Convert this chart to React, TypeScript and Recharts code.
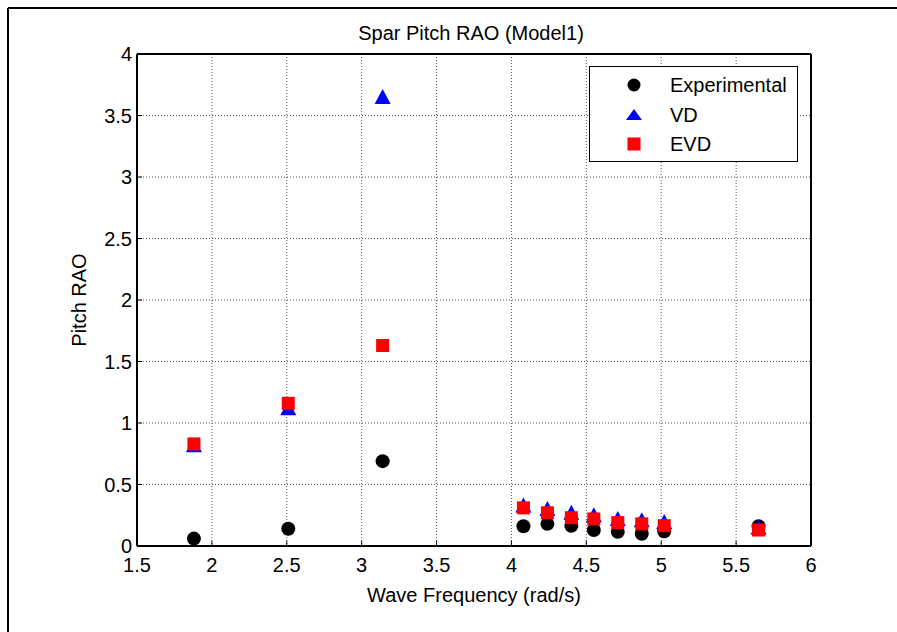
import React from "react";
import {
  ScatterChart, Scatter, XAxis, YAxis, CartesianGrid, Legend,
} from "recharts";

const FONT = "Arial, 'Liberation Sans', Helvetica, sans-serif";

// wave frequencies (rad/s)
const freqs = [1.88, 2.51, 3.14, 4.08, 4.24, 4.40, 4.55, 4.71, 4.87, 5.02, 5.65];
// pitch RAO per series
const expRao = [0.06, 0.14, 0.69, 0.16, 0.18, 0.165, 0.13, 0.115, 0.10, 0.12, 0.16];
const vdRao = [0.82, 1.12, 3.65, 0.33, 0.30, 0.27, 0.25, 0.22, 0.21, 0.195, 0.15];
const evdRao = [0.83, 1.16, 1.63, 0.31, 0.27, 0.23, 0.22, 0.19, 0.18, 0.165, 0.13];

const xTicks = [1.5, 2, 2.5, 3, 3.5, 4, 4.5, 5, 5.5, 6];
const yTicks = [0, 0.5, 1, 1.5, 2, 2.5, 3, 3.5, 4];

const toRows = (vals: number[]) => freqs.map((f, i) => ({ x: f, y: vals[i] }));

const circleShape = (p: any) => <circle cx={p.cx} cy={p.cy} r={7} fill="#000" />;
const triShape = (p: any) => (
  <path d={`M${p.cx},${p.cy - 8} L${p.cx + 8},${p.cy + 7} L${p.cx - 8},${p.cy + 7} Z`} fill="#0000ff" />
);
const squareShape = (p: any) => (
  <rect x={p.cx - 6.5} y={p.cy - 6.5} width={13} height={13} fill="#ff0000" />
);

const legendItems = [
  { name: "Experimental", marker: <circle cx={8} cy={8} r={6.5} fill="#000" /> },
  { name: "VD", marker: <path d="M8,2 L16,13 L0,13 Z" fill="#0000ff" /> },
  { name: "EVD", marker: <rect x={1.5} y={1.5} width={13} height={13} fill="#ff0000" /> },
];

function LegendBox() {
  return (
    <div
      style={{
        width: 209, height: 96, boxSizing: "border-box", border: "1.5px solid #000",
        background: "#fff", position: "relative", fontFamily: FONT, fontSize: 20, color: "#000",
      }}
    >
      {legendItems.map((it, i) => (
        <div key={it.name} style={{ position: "absolute", left: 0, top: 18 + i * 29.5 - 12, height: 24, width: "100%" }}>
          <svg width={16} height={16} style={{ position: "absolute", left: 36, top: 4 }}>
            {it.marker}
          </svg>
          <span style={{ position: "absolute", left: 80, top: 0, lineHeight: "24px" }}>{it.name}</span>
        </div>
      ))}
    </div>
  );
}

export default function App() {
  const tickStyle = { fill: "#000", fontSize: 20, fontFamily: FONT };
  return (
    <div style={{ position: "absolute", left: 0, top: 0, width: 897, height: 632, background: "#fff" }}>
      <ScatterChart
        width={897}
        height={632}
        margin={{ top: 49, right: 81, bottom: 56, left: 21 }}
        style={{ fontFamily: FONT }}
      >
        <CartesianGrid stroke="#555" strokeDasharray="1 2" strokeWidth={1} />
        <XAxis
          type="number"
          dataKey="x"
          domain={[1.5, 6]}
          ticks={xTicks}
          height={30}
          tick={tickStyle}
          tickSize={-5}
          tickMargin={17}
          axisLine={{ stroke: "#000", strokeWidth: 2 }}
          tickLine={{ stroke: "#000" }}
          label={{ value: "Wave Frequency (rad/s)", position: "bottom", offset: 12, fill: "#000", fontSize: 20, fontFamily: FONT }}
        />
        <XAxis
          xAxisId="top"
          orientation="top"
          type="number"
          domain={[1.5, 6]}
          ticks={xTicks}
          height={5}
          tick={false}
          tickSize={-5}
          axisLine={{ stroke: "#000", strokeWidth: 2 }}
          tickLine={{ stroke: "#000" }}
        />
        <YAxis
          type="number"
          dataKey="y"
          domain={[0, 4]}
          ticks={yTicks}
          width={116}
          tick={tickStyle}
          tickSize={-5}
          tickMargin={10}
          axisLine={{ stroke: "#000", strokeWidth: 2 }}
          tickLine={{ stroke: "#000" }}
          label={{ value: "Pitch RAO", angle: -90, position: "center", fill: "#000", fontSize: 20, fontFamily: FONT }}
        />
        <YAxis
          yAxisId="right"
          orientation="right"
          type="number"
          domain={[0, 4]}
          ticks={yTicks}
          width={5}
          tick={false}
          tickSize={-5}
          axisLine={{ stroke: "#000", strokeWidth: 2 }}
          tickLine={{ stroke: "#000" }}
        />
        <Legend
          layout="vertical"
          align="center"
          verticalAlign="middle"
          content={() => <LegendBox />}
          wrapperStyle={{ left: 589, top: 66, width: 209, height: 96 }}
        />
        <Scatter name="Experimental" data={toRows(expRao)} shape={circleShape} isAnimationActive={false} />
        <Scatter name="VD" data={toRows(vdRao)} shape={triShape} isAnimationActive={false} />
        <Scatter name="EVD" data={toRows(evdRao)} shape={squareShape} isAnimationActive={false} />
      </ScatterChart>
      <svg width={897} height={632} style={{ position: "absolute", left: 0, top: 0, pointerEvents: "none" }}>
        <line x1={8} y1={8} x2={897} y2={8} stroke="#000" strokeWidth={2} />
        <line x1={8} y1={8} x2={8} y2={632} stroke="#000" strokeWidth={2} />
        <text x={471} y={40} textAnchor="middle" fontSize={20} fontFamily={FONT} fill="#000">
          Spar Pitch RAO (Model1)
        </text>
      </svg>
    </div>
  );
}
